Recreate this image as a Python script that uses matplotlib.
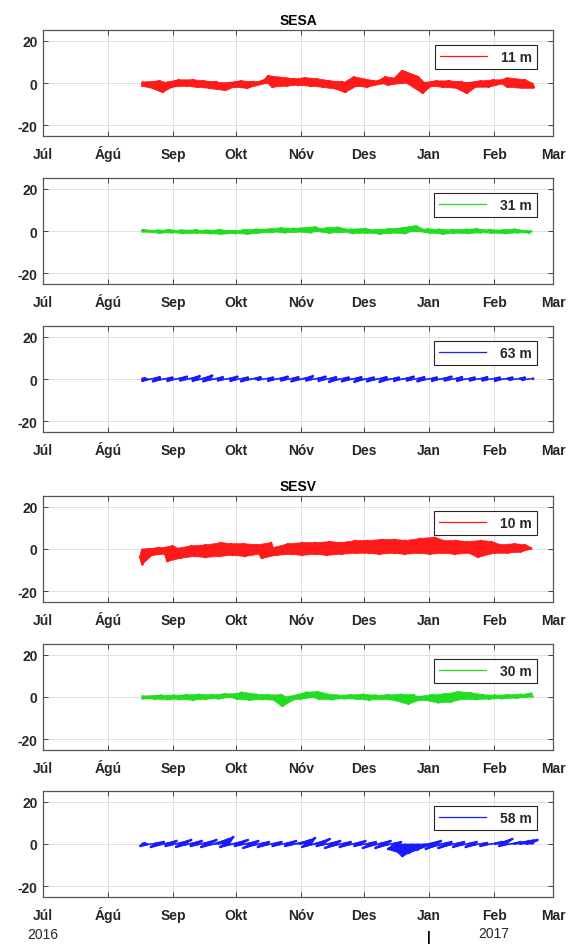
import numpy as np
import matplotlib.pyplot as plt
import matplotlib.dates as mdates
from matplotlib.collections import LineCollection, PolyCollection
from datetime import date, timedelta

plt.rcParams['font.family'] = ['Liberation Sans', 'DejaVu Sans']
plt.rcParams['axes.unicode_minus'] = False

# Donnees : un baton tous les 3 jours a partir du 17 aout 2016
start = date(2016, 8, 17)
step = 3

month_labels = ['Júl', 'Ágú', 'Sep', 'Okt', 'Nóv', 'Des', 'Jan', 'Feb', 'Mar']
month_ticks = [date(2016, 7, 1), date(2016, 8, 1), date(2016, 9, 1), date(2016, 10, 1),
               date(2016, 11, 1), date(2016, 12, 1), date(2017, 1, 1), date(2017, 2, 1),
               date(2017, 3, 1)]

titles = ['SESA', None, None, 'SESV', None, None]
depths = ['11 m', '31 m', '63 m', '10 m', '30 m', '58 m']
colors = ['#ff1a1a', '#22dd22', '#1a1aff', '#ff1a1a', '#22dd22', '#1a1aff']
windows = [3, 3, 2, 3, 3, 2]  # nb de batons voisins remplis ensemble

# SESA 11 m
v1 = [0.5, -1.5, 1.0, -2.5, -4.5, 1.5, -2.0, 1.5, -1.5, 1.0,
      -2.0, 0.5, -2.5, -3.0, -3.5, 1.0, -2.0, 0.5, -2.5, 1.5,
      3.0, 3.5, -2.0, 2.0, -1.5, 2.5, -1.0, 2.0, -1.5, 1.0,
      -2.0, 0.5, -3.0, -4.5, 3.0, -1.5, 1.0, -2.0, 1.5, 3.0,
      -1.0, 1.5, 6.0, 3.0, -5.0, -2.0, 1.0, -1.5, 1.0, -2.0,
      0.5, -2.5, -5.0, 1.0, -2.0, 1.5, -2.0, 1.5, 2.5, -2.0,
      1.5, -2.5, -2.5]
u1 = [1, -3, 3, -4, -2, 3, -4, 4, -3, 3,
      -4, 3, -4, -3, -2, 3, -4, 3, -4, 3,
      2, -3, -4, 4, -3, 3, -4, 3, -4, 3,
      -4, 3, -3, -2, -1, -3, 3, -4, 3, -1,
      -3, 3, -2, 3, 2, -4, 3, -3, 3, -4,
      3, -3, -1, 3, -4, 3, -3, 3, 0, -3,
      3, -2, 1]

# SESA 31 m
v2 = [-0.5, 0.5, -1.0, 0.3, -0.8, 0.5, -1.2, 0.3, -1.0, 0.5,
      -1.3, 0.2, -1.5, 0.5, -1.2, -0.3, -1.5, 0.5, -1.0, 0.8,
      -0.5, 1.0, -0.8, 1.5, -0.5, 1.2, -0.8, 2.0, 0.5, -1.0,
      1.5, -0.5, 1.8, -1.2, 0.8, -1.0, 1.2, -1.5, 0.5, -1.0,
      1.0, -1.2, 1.5, 2.5, 0.5, -1.0, 1.0, -1.5, 0.8, -1.0,
      0.5, -1.2, 0.8, -0.8, 1.0, -1.0, 0.5, -1.2, 0.5, -0.8,
      0.8, -1.0, -0.5]
u2 = [1, -3, 3, -2, 3, -3, 2, -3, 3, -2,
      3, -3, 2, -3, 3, -2, 3, -3, 2, -3,
      3, -2, 3, -3, 2, -3, 3, 2, -3, 3,
      -2, 3, -3, 2, -3, 3, -2, 3, -3, 2,
      -3, 3, -2, 2, -3, 3, -2, 3, -3, 2,
      -3, 3, -2, 3, -3, 2, -3, 3, -2, 3,
      -3, 2, -1]

# SESA 63 m
v3 = [0.5, -1.0, 1.0, -1.2, 0.8, -1.0, 1.2, -0.8, 1.5, -1.0,
      1.8, -1.2, 1.0, -0.8, 1.2, -1.0, 0.8, -1.2, 1.0, -0.5,
      0.8, -1.0, 1.2, -0.8, 1.0, -1.2, 1.5, -0.8, 1.2, -1.0,
      1.0, -1.5, 0.8, -1.2, 1.0, -1.5, 0.8, -1.2, 1.0, -1.5,
      0.8, -1.0, 1.2, -0.8, 1.0, -1.2, 0.8, -1.0, 1.2, -0.8,
      1.0, -1.0, 0.8, -0.8, 1.0, -0.8, 0.8, -1.0, 0.8, -0.5,
      0.8, -0.5, 0.3]
u3 = [2, -3, 3, -4, 3, -3, 4, -3, 4, -3,
      4, -4, 3, -3, 4, -3, 3, -4, 3, -2,
      3, -3, 4, -3, 3, -4, 4, -3, 4, -3,
      3, -4, 3, -4, 3, -4, 3, -4, 3, -4,
      3, -3, 4, -3, 3, -4, 3, -3, 4, -3,
      3, -3, 3, -3, 3, -3, 3, -3, 3, -2,
      3, -2, 1]

# SESV 10 m
v4 = [-7.5, -4.0, 0.5, -3.0, 1.5, -2.5, -6.0, 1.5, -4.5, 2.0,
      -3.5, 3.0, -4.0, 2.5, -3.5, 2.5, -3.0, 2.0, -3.5, 3.0,
      -2.5, -4.5, 2.5, -3.0, 3.0, -2.5, 3.0, -3.0, 3.5, -2.5,
      3.0, -3.0, 4.0, -2.5, 4.0, -2.0, 4.5, -2.0, 4.5, -2.5,
      4.0, -2.0, 5.0, -2.5, 5.5, -2.0, 4.0, -2.5, 4.0, -2.0,
      3.5, -2.5, 4.0, -2.0, 3.5, -4.0, 2.0, -2.0, 2.5, -2.0,
      2.0, -1.5, 1.5]
u4 = [0, -4, 3, -4, 3, -4, -6, 3, -6, 4,
      -5, 5, -6, 4, -5, 4, -5, 4, -5, 5,
      -4, -6, 4, -5, 5, -4, 5, -5, 6, -4,
      5, -5, 6, -4, 6, -3, 7, -3, 7, -4,
      6, -3, 7, -4, 8, -3, 6, -4, 6, -3,
      5, -4, 6, -3, 5, -5, 3, -3, 4, -3,
      3, -3, -3]

# SESV 30 m
v5 = [0.5, -0.8, 0.8, -1.0, 0.8, -1.2, 1.0, -1.0, 1.2, -1.5,
      1.0, -1.0, 1.5, -0.8, 1.5, 2.3, -1.0, 1.2, -1.5, 1.0,
      -1.2, 1.0, -1.5, -4.5, -2.0, 2.3, -1.0, 2.5, 1.5, -1.0,
      0.8, -1.2, 1.0, -0.8, 1.2, -1.0, 0.8, -1.5, 1.0, -1.0,
      1.2, -1.5, 1.0, -3.5, -2.0, 1.0, -1.5, 1.5, -2.8, 2.5,
      -2.5, 2.0, -1.0, 1.0, -1.2, 0.8, -1.0, 1.0, -0.8, 1.2,
      -0.5, 1.8, 1.0]
u5 = [1, -3, 4, -3, 4, -3, 4, -4, 4, -3,
      4, -3, 4, -3, 4, 3, -3, 4, -3, 4,
      -3, 4, -3, -2, -3, 4, -3, 3, 4, -3,
      4, -3, 4, -3, 4, -3, 4, -3, 4, -3,
      4, -3, 4, -2, -3, 4, -3, 4, -3, 4,
      -3, 4, -3, 4, -3, 4, -3, 4, -3, 4,
      -2, 3, 0]

# SESV 58 m
v6 = [0.5, -1.0, 1.0, -1.5, 1.5, -1.0, 2.0, -1.5, 1.5, -1.0,
      2.0, -1.5, 2.5, 3.5, -1.5, 2.0, -1.0, 1.5, -2.0, 1.0,
      -1.5, 1.0, -1.0, 1.5, -1.0, 2.0, 3.0, -1.5, 2.5, -1.0,
      1.5, -2.0, 1.0, -1.5, 1.5, -1.0, 1.0, -2.0, 1.5, -2.0,
      1.0, -2.5, -4.0, -6.0, -4.5, -3.0, 1.5, -2.5, 1.0, -2.0,
      1.0, -1.5, 1.0, -1.5, 0.5, -1.0, 1.0, 2.5, -1.0, 1.0,
      1.5, 2.0, 2.0]
u6 = [2, -4, 5, -5, 5, -4, 6, -5, 5, -4,
      6, -5, 6, 5, -5, 6, -4, 5, -6, 4,
      -5, 4, -4, 5, -4, 6, 5, -5, 6, -4,
      5, -6, 4, -5, 5, -4, 4, -6, 5, -6,
      4, -6, -4, -5, -5, -4, 5, -6, 4, -6,
      4, -5, 4, -5, 3, -4, 4, 6, -4, 4,
      5, 6, 0]

us = [u1, u2, u3, u4, u5, u6]
vs = [v1, v2, v3, v4, v5, v6]


def hull(points):
    # enveloppe convexe (chaine monotone)
    pts = sorted(set(points))
    if len(pts) < 3:
        return pts

    def cross(o, a, b):
        return (a[0] - o[0]) * (b[1] - o[1]) - (a[1] - o[1]) * (b[0] - o[0])

    lower, upper = [], []
    for p in pts:
        while len(lower) >= 2 and cross(lower[-2], lower[-1], p) <= 0:
            lower.pop()
        lower.append(p)
    for p in reversed(pts):
        while len(upper) >= 2 and cross(upper[-2], upper[-1], p) <= 0:
            upper.pop()
        upper.append(p)
    return lower[:-1] + upper[:-1]


# Figure
W, H = 575, 945
fig = plt.figure(figsize=(W / 100, H / 100), dpi=100)

tops = [31, 179, 327, 497, 645, 792]
ax_h = 106
ax_l, ax_w = 43, 510
txt = '#262626'

xt = mdates.date2num(month_ticks)

axes = []
for p in range(6):
    ax = fig.add_axes([ax_l / W, 1 - (tops[p] + ax_h) / H, ax_w / W, ax_h / H])
    axes.append(ax)

    u = np.array(us[p], dtype=float)
    v = np.array(vs[p], dtype=float)
    n = len(v)
    t0 = mdates.date2num([start + timedelta(days=step * k) for k in range(n)])
    tx = t0 + u  # 1 cm/s ~ 1 jour sur l'axe

    # batons
    segs = [[(t0[k], 0), (tx[k], v[k])] for k in range(n)]
    ax.add_collection(LineCollection(segs, colors=colors[p], linewidths=1.8, zorder=3))
    # zone balayee par des batons voisins
    w = windows[p]
    polys = []
    for k in range(n - w + 1):
        pts = []
        for j in range(k, k + w):
            pts.append((t0[j], 0.0))
            pts.append((tx[j], v[j]))
        polys.append(hull(pts))
    ax.add_collection(PolyCollection(polys, facecolors=colors[p], edgecolors=colors[p],
                                     linewidths=0.5, zorder=3))

    ax.plot([], [], color=colors[p], lw=0.9, label=depths[p])
    leg = ax.legend(loc='upper right', bbox_to_anchor=(0.9686, 0.858), borderaxespad=0,
                    fancybox=False, framealpha=1, edgecolor='#262626', handlelength=3.4,
                    handletextpad=1.0, borderpad=0.35,
                    prop={'weight': 'bold', 'size': 10})
    leg.get_frame().set_linewidth(0.8)
    for t in leg.get_texts():
        t.set_color(txt)

    ax.set_xlim(xt[0], xt[-1])
    ax.set_ylim(-25, 25)
    ax.set_xticks(xt)
    ax.set_xticklabels(month_labels, fontweight='bold', fontsize=10, color=txt)
    for lab in ax.get_xticklabels():
        lab.set_verticalalignment('baseline')
    ax.set_yticks([-20, 0, 20])
    ax.set_yticklabels(['-20', '0', '20'], fontweight='bold', fontsize=10, color=txt)
    ax.tick_params(axis='both', direction='in', length=3.5, width=0.7, color='#404040',
                   top=True, right=True)
    ax.tick_params(axis='x', pad=15.5)
    ax.tick_params(axis='y', pad=4)
    ax.grid(True, color='#dcdcdc', lw=0.6)
    ax.set_axisbelow(True)
    for s in ax.spines.values():
        s.set_color('#555555')
        s.set_linewidth(0.9)
    if titles[p]:
        ax.set_title(titles[p], fontweight='bold', fontsize=10, color='black', pad=4)

# annees sous le dernier axe
ax = axes[-1]
tr = ax.get_xaxis_transform()
ax.text(mdates.date2num(date(2016, 7, 1)), -0.35, '2016', transform=tr,
        ha='center', va='center', fontsize=10, color=txt)
ax.text(mdates.date2num(date(2017, 2, 1)), -0.34, '2017', transform=tr,
        ha='center', va='center', fontsize=10, color=txt)
ax.text(mdates.date2num(date(2017, 1, 1)), -0.375, '|', transform=tr,
        ha='center', va='center', fontsize=10, color='black', fontweight='bold')

fig.savefig('out.png', dpi=100)
